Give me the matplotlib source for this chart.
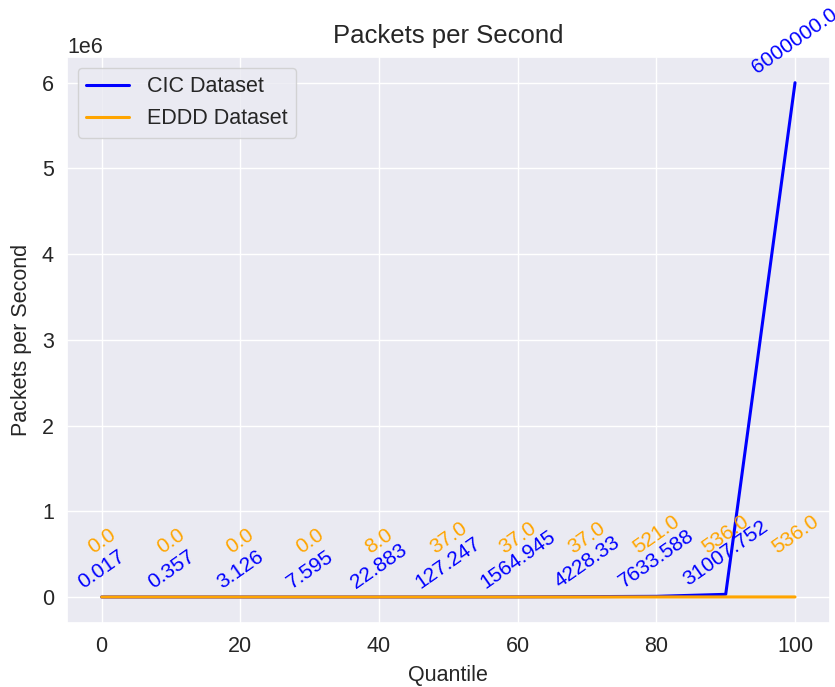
import matplotlib
matplotlib.use("Agg")
import matplotlib.pyplot as plt
import seaborn as sns

quantiles = [0, 10, 20, 30, 40, 50, 60, 70, 80, 90, 100]
cic_values = [0.017, 0.357, 3.126, 7.595, 22.883, 127.247, 1564.945,
              4228.33, 7633.588, 31007.752, 6000000.0]
eddd_values = [0.0, 0.0, 0.0, 0.0, 8.0, 37.0, 37.0, 37.0, 521.0, 536.0, 536.0]

sns.set_theme(style="darkgrid")
plt.rcParams['font.family'] = ['Liberation Sans', 'DejaVu Sans']

fig = plt.figure(figsize=(8.35, 6.87), dpi=100)
ax = fig.add_axes([67 / 835, (687 - 622.7) / 687, (829.7 - 67) / 835, (622.7 - 57) / 687])

ax.plot(quantiles, cic_values, color='blue', linewidth=2.2, label='CIC Dataset')
ax.plot(quantiles, eddd_values, color='orange', linewidth=2.2, label='EDDD Dataset')

for q, v in zip(quantiles, cic_values):
    ax.annotate(str(v), (q, v), textcoords='offset pixels', xytext=(0, 5),
                ha='center', va='bottom', rotation=35, color='blue', fontsize=15)
for q, v in zip(quantiles, eddd_values):
    ax.annotate(str(v), (q, v), textcoords='offset pixels', xytext=(0, 40),
                ha='center', va='bottom', rotation=35, color='orange', fontsize=15)

ax.set_title('Packets per Second', fontsize=18.5, pad=10)
ax.set_xlabel('Quantile', fontsize=15.5, labelpad=6)
ax.set_ylabel('Packets per Second', fontsize=15.5, labelpad=7)
ax.tick_params(labelsize=15.5)
ax.yaxis.get_offset_text().set_fontsize(15.5)
ax.legend(fontsize=15.5, loc='upper left')

fig.savefig('out.png', dpi=100)
